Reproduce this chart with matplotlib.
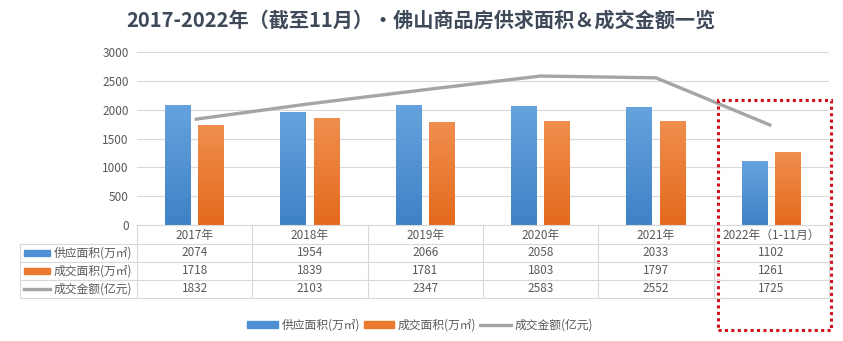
import numpy as np
import matplotlib.pyplot as plt
from matplotlib.patches import Rectangle
from matplotlib.lines import Line2D
from matplotlib.colors import LinearSegmentedColormap

plt.rcParams['font.family'] = ['Noto Sans CJK SC', 'DejaVu Sans']

# data
years = ['2017年', '2018年', '2019年', '2020年', '2021年', '2022年（1-11月）']
supply = [2074, 1954, 2066, 2058, 2033, 1102]
deal_area = [1718, 1839, 1781, 1803, 1797, 1261]
deal_amount = [1832, 2103, 2347, 2583, 2552, 1725]
series_names = ['供应面积(万㎡)', '成交面积(万㎡)', '成交金额(亿元)']

c_blue = '#4f90d4'
c_orange = '#ec7a2e'
c_gray = '#a5a5a5'
c_text = '#595959'
c_grid = '#d9d9d9'
blue_grad = LinearSegmentedColormap.from_list('b', ['#3e82c6', '#66a2dd'])
orange_grad = LinearSegmentedColormap.from_list('o', ['#e46a1c', '#f08e4e'])

W, H = 843, 341
fig = plt.figure(figsize=(W / 100, H / 100), dpi=100)
ax = fig.add_axes([137 / W, 1 - 225 / H, 692 / W, 173 / H])

x = list(range(len(years)))
bw = 0.225
grad = np.linspace(0, 1, 128).reshape(-1, 1)
for vals, off, cmap in [(supply, -0.145, blue_grad), (deal_area, 0.145, orange_grad)]:
    for i, v in zip(x, vals):
        ax.imshow(grad, extent=[i + off - bw / 2, i + off + bw / 2, 0, v], origin='lower',
                  aspect='auto', cmap=cmap, zorder=2, interpolation='bilinear')
ax.plot(x, deal_amount, color=c_gray, lw=2.4, zorder=3, solid_capstyle='butt')

ax.set_xlim(-0.5, len(years) - 0.5)
ax.set_ylim(0, 3000)
ax.set_yticks(range(0, 3001, 500))
ax.tick_params(axis='y', length=0, labelsize=8.5, labelcolor=c_text, pad=6)
ax.set_xticks([])
ax.grid(axis='y', color=c_grid, lw=0.8, zorder=0)
for s in ['top', 'right', 'left']:
    ax.spines[s].set_visible(False)
ax.spines['bottom'].set_color(c_grid)

# data table under the axis
px = lambda p: 1 - p / H
row_tops = [225, 244, 262, 280, 298]
line_kw = dict(color=c_grid, lw=0.8, transform=fig.transFigure, clip_on=False)

def fx(d):
    return (137 + (d + 0.5) * 692 / 6) / W

for b in range(len(years) + 1):
    fig.add_artist(Line2D([fx(b - 0.5)] * 2, [px(225), px(298)], **line_kw))
for y in row_tops[1:]:
    fig.add_artist(Line2D([20 / W, fx(len(years) - 0.5)], [px(y), px(y)], **line_kw))
fig.add_artist(Line2D([20 / W, 20 / W], [px(244), px(298)], **line_kw))

for i, yr in enumerate(years):
    fig.text(fx(i), px(235), yr, ha='center', va='center', fontsize=8.5, color=c_text)
rows = [supply, deal_area, deal_amount]
for r, vals in enumerate(rows):
    yc = px((row_tops[r + 1] + row_tops[r + 2]) / 2)
    for i, v in enumerate(vals):
        fig.text(fx(i), yc, str(v), ha='center', va='center', fontsize=8.5, color=c_text)
    fig.text(54 / W, yc, series_names[r], ha='left', va='center', fontsize=8.5, color=c_text)
    if r < 2:
        fig.add_artist(Rectangle((24 / W, yc - 3 / H), 26 / W, 6 / H,
                                 color=[c_blue, c_orange][r], transform=fig.transFigure))
    else:
        fig.add_artist(Line2D([24 / W, 50 / W], [yc, yc], color=c_gray, lw=2.4,
                              transform=fig.transFigure))

# legend
handles = [Rectangle((0, 0), 1, 1, color=c_blue), Rectangle((0, 0), 1, 1, color=c_orange),
           Line2D([], [], color=c_gray, lw=2.4)]
fig.legend(handles, series_names, loc='center', bbox_to_anchor=(420 / W, px(325)), ncol=3,
           frameon=False, fontsize=8.5, labelcolor=c_text, handlelength=2.6, handleheight=0.5,
           columnspacing=0.3, handletextpad=0.3)

# highlight box for 2022
fig.add_artist(Rectangle((718 / W, px(330)), 113 / W, 230 / H, fill=False, ec='#d0101b',
                         lw=2.2, ls=(0, (1, 1.1)), transform=fig.transFigure))

fig.text(421 / W, px(20), '2017-2022年（截至11月）·佛山商品房供求面积＆成交金额一览',
         ha='center', va='center', fontsize=14.5, fontweight='bold', color='#3e4a5a')

fig.savefig('out.png', dpi=100, facecolor='white')
